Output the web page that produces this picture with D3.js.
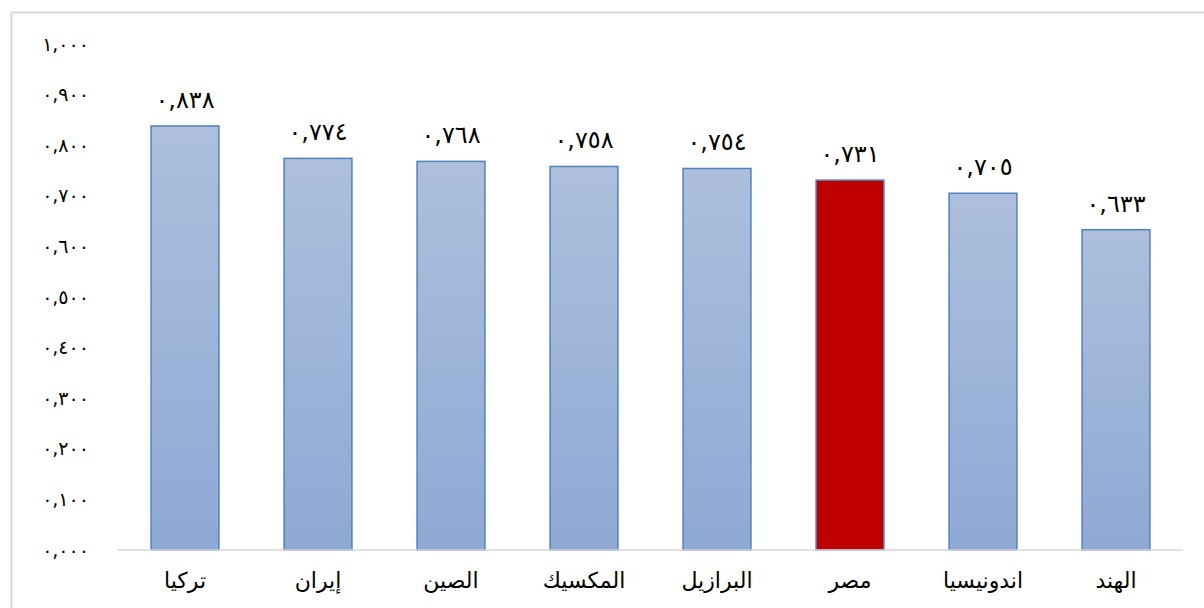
<!DOCTYPE html>
<html>
<head>
<meta charset="utf-8">
<script src="https://cdn.jsdelivr.net/npm/d3@7"></script>
<style>
  body { margin: 0; background: #fff; }
  svg text { font-family: "DejaVu Sans", Arial, sans-serif; fill: #000; }
</style>
</head>
<body>
<svg class="chart" width="1204" height="608"></svg>
<script>
// chart data
const countries = ["تركيا", "إيران", "الصين", "المكسيك", "البرازيل", "مصر", "اندونيسيا", "الهند"];
const values = [0.838, 0.774, 0.768, 0.758, 0.754, 0.731, 0.705, 0.633];
const highlight = "مصر";
const yTicks = [0, 0.1, 0.2, 0.3, 0.4, 0.5, 0.6, 0.7, 0.8, 0.9, 1.0];

// arabic-indic digits, comma as decimal sign
const arDigits = "٠١٢٣٤٥٦٧٨٩";
const toArabic = s => s.replace(/[0-9]/g, d => arDigits[+d]).replace(".", ",");
const fmt = v => toArabic(d3.format(".3f")(v));

let svg = d3.select("svg.chart");

// outer frame
svg.append("path")
  .attr("d", "M11.5,608 V12.5 H1204")
  .attr("fill", "none")
  .attr("stroke", "#d9d9d9")
  .attr("stroke-width", 2);

let x = d3.scaleBand()
  .domain(countries)
  .range([118.5, 1182.5])
  .paddingInner(0.49)
  .paddingOuter(0.245);

let y = d3.scaleLinear()
  .domain([0, 1])
  .range([550, 44]);

// gradient for bars
let defs = svg.append("defs");
let grad = defs.append("linearGradient")
  .attr("id", "barGrad")
  .attr("x1", 0).attr("y1", 0).attr("x2", 0).attr("y2", 1);
grad.append("stop").attr("offset", "0%").attr("stop-color", "#adbfdc");
grad.append("stop").attr("offset", "100%").attr("stop-color", "#8ea9d5");

// y axis labels
svg.append("g")
  .selectAll("text")
  .data(yTicks)
  .enter()
  .append("text")
    .attr("x", 89)
    .attr("y", d => y(d))
    .attr("dy", "0.35em")
    .attr("text-anchor", "end")
    .attr("direction", "ltr")
    .style("font-size", "19px")
    .style("letter-spacing", "3px")
    .text(d => fmt(d));

// bars
svg.append("g")
  .selectAll("rect")
  .data(countries)
  .enter()
  .append("rect")
    .attr("x", d => x(d))
    .attr("y", (d, i) => y(values[i]))
    .attr("width", x.bandwidth())
    .attr("height", (d, i) => y(0) - y(values[i]))
    .attr("fill", d => d === highlight ? "#c00000" : "url(#barGrad)")
    .attr("stroke", "#4f81bd")
    .attr("stroke-width", 1.5);

// x axis line
svg.append("line")
  .attr("x1", 118).attr("x2", 1183)
  .attr("y1", y(0)).attr("y2", y(0))
  .attr("stroke", "#d9d9d9")
  .attr("stroke-width", 1.5);

// value labels
svg.append("g")
  .selectAll("text")
  .data(countries)
  .enter()
  .append("text")
    .attr("x", d => x(d) + x.bandwidth() / 2)
    .attr("y", (d, i) => y(values[i]) - 18)
    .attr("text-anchor", "middle")
    .attr("direction", "ltr")
    .style("font-size", "24px")
    .style("letter-spacing", "2px")
    .text((d, i) => fmt(values[i]));

// category labels
svg.append("g")
  .selectAll("text")
  .data(countries)
  .enter()
  .append("text")
    .attr("x", d => x(d) + x.bandwidth() / 2)
    .attr("y", 580)
    .attr("dy", "0.35em")
    .attr("text-anchor", "middle")
    .style("font-size", "22px")
    .text(d => d);
</script>
</body>
</html>
